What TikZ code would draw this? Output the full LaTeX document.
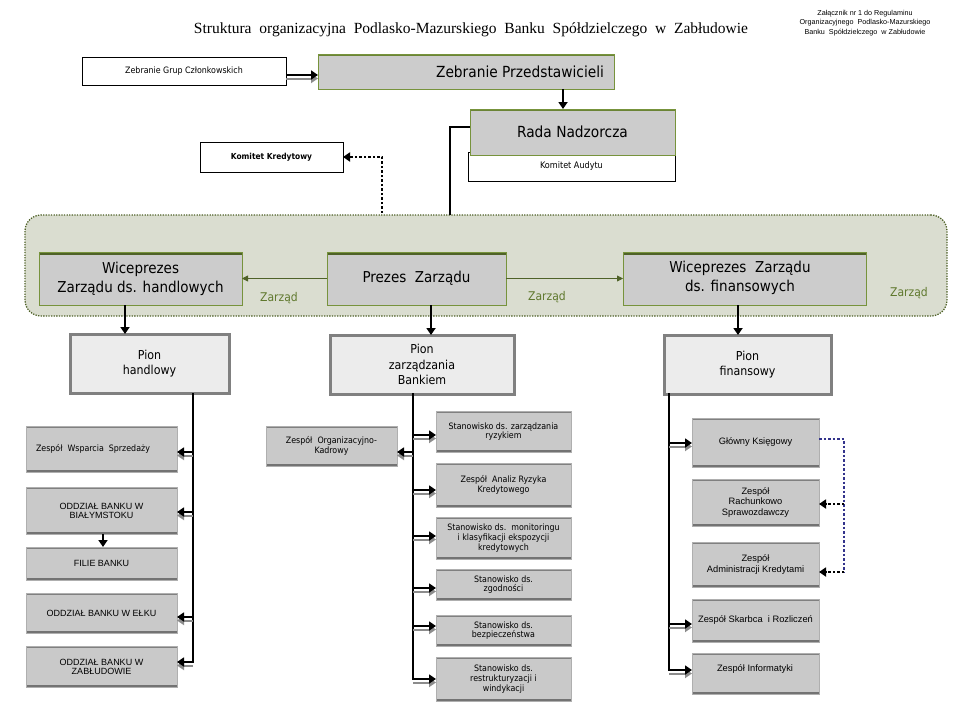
\documentclass[tikz,border=0pt]{standalone}
\usepackage{fontspec}
\setmainfont{DejaVu Sans Condensed}
\newfontfamily\ari{Liberation Sans}
\newfontfamily\tms{Liberation Serif}
\usetikzlibrary{arrows.meta,calc}
\definecolor{hgray}{RGB}{204,204,204}
\definecolor{boxgray}{RGB}{201,201,201}
\definecolor{topgray}{RGB}{128,128,128}
\definecolor{botgray}{RGB}{115,115,115}
\definecolor{sidegray}{RGB}{175,175,175}
\definecolor{piongray}{RGB}{236,236,236}
\definecolor{pionedge}{RGB}{128,128,128}
\definecolor{dgreen}{RGB}{79,98,40}
\definecolor{lgreen}{RGB}{119,147,60}
\definecolor{boardfill}{RGB}{218,221,208}
\definecolor{zgreen}{RGB}{95,120,45}
\definecolor{navy}{RGB}{51,51,140}
\definecolor{shgray}{RGB}{140,140,140}
\newcommand\bx[7]{\node[#2, minimum width={(#5-#3)*1pt}, minimum height={(#6-#4)*1pt}] (#1) at ({(#3+#5)/2},{(#4+#6)/2}) {#7};}
\newcommand\lar[3]{%
  \draw[sharr] ($(#2 -| #1)+(0,#3+3.5)$) -- ($(#2)+(0,#3+3.5)$);
  \draw[barr] ($(#2 -| #1)+(0,#3)$) -- ($(#2)+(0,#3)$);}
\begin{document}
\begin{tikzpicture}[x=1pt,y=-1pt,
  every node/.style={inner sep=0pt, outer sep=0pt, align=center},
  whitebox/.style={draw=black, line width=0.8pt, fill=white},
  greenbox/.style={fill=hgray, draw=lgreen, line width=1pt,
    path picture={\draw[line width=6pt, dgreen] (path picture bounding box.north west) -- (path picture bounding box.north east);}},
  topbox/.style={fill=hgray, draw=lgreen, line width=1pt,
    path picture={\draw[line width=4pt, lgreen!70!dgreen] (path picture bounding box.north west) -- (path picture bounding box.north east);}},
  lowbox/.style={fill=boxgray, draw=sidegray, line width=0.6pt,
    path picture={\draw[line width=4pt, topgray] (path picture bounding box.north west) -- (path picture bounding box.north east);
                  \draw[line width=5pt, botgray] (path picture bounding box.south west) -- (path picture bounding box.south east);}},
  pionbox/.style={fill=piongray, draw=pionedge, line width=3pt},
  board/.style={draw=dgreen, fill=boardfill, line width=1.3pt, dash pattern=on 1.3pt off 1.3pt, rounded corners=16pt},
  barr/.style={draw=black, line width=2pt, -{Triangle[length=7pt,width=9pt]}},
  sharr/.style={draw=shgray, line width=2pt, -{Triangle[length=7pt,width=9pt]}},
  darr/.style={draw=black, line width=2pt, -{Triangle[length=7pt,width=9pt]}},
  vline/.style={draw=black, line width=2.6pt},
  garr/.style={draw=dgreen, line width=0.8pt, -{Triangle[length=6pt,width=6pt]}},
  kdot/.style={draw=black, line width=2.5pt, dash pattern=on 2.5pt off 2pt, -{Triangle[length=7pt,width=9pt]}},
  ndot/.style={draw=navy, line width=2.5pt, dash pattern=on 2.5pt off 2pt},
  fbig/.style={font=\fontsize{15.3}{19}\selectfont},
  fvp/.style={font=\fontsize{15}{19}\selectfont},
  fpion/.style={font=\fontsize{12.3}{15.5}\selectfont},
  fsm/.style={font=\fontsize{8.8}{9.6}\selectfont},
  far/.style={font=\ari\fontsize{9}{9}\selectfont},
  farr/.style={font=\ari\fontsize{9.3}{10.3}\selectfont},
  fzar/.style={font=\fontsize{12}{13}\selectfont, text=zgreen}
]
\useasboundingbox (0,0) rectangle (960,720);
\fill[white] (0,0) rectangle (960,720);

% title and note
\node[font=\tms\fontsize{15.5}{18}\selectfont] (title) at (471,30) {Struktura\ \ organizacyjna\ \ Podlasko-Mazurskiego\ \ Banku\ \ Spółdzielczego\ \ w\ \ Zabłudowie};
\node[font=\ari\fontsize{7.2}{9.5}\selectfont] (note) at (865,23) {Załącznik nr 1 do Regulaminu\\Organizacyjnego\ \ Podlasko-Mazurskiego\\Banku\ \ Spółdzielczego\ \ w Zabłudowie};

% board
\node[board, minimum width=922pt, minimum height=101pt] (zarzad) at (486,265.5) {};

% top
\bx{zgc}{whitebox,fsm}{82}{57}{286}{85}{Zebranie Grup Członkowskich}
\bx{zp}{topbox}{318}{54}{614}{89}{}
\node[fbig] (zpt) at (520,72) {Zebranie Przedstawicieli};
\bx{ka}{whitebox,font=\fontsize{9}{10}\selectfont}{468}{152}{675}{181}{\raisebox{-1pt}{Komitet Audytu}}
\bx{rn}{topbox,fbig}{470}{109}{675}{155}{Rada Nadzorcza}
\bx{kk}{whitebox,font=\bfseries\fontsize{8.3}{9}\selectfont}{200}{142}{343}{172}{Komitet Kredytowy}

% board members
\bx{wh}{greenbox,fvp}{39}{252}{242}{305}{Wiceprezes\\Zarządu ds. handlowych}
\bx{prez}{greenbox,fvp}{327}{252}{506}{305}{Prezes\ \ Zarządu}
\bx{wf}{greenbox,fvp}{623}{252}{866}{305}{}
\node[fvp] (wft) at (740,278) {Wiceprezes\ \ Zarządu\\ds. finansowych};
\node[fzar] (z1) at (279,298) {Zarząd};
\node[fzar] (z2) at (547,297) {Zarząd};
\node[fzar] (z3) at (909,293) {Zarząd};

% piony
\bx{ph}{pionbox,fpion}{70}{334}{229}{393}{Pion\\handlowy}
\bx{pz}{pionbox,fpion}{330}{335}{514}{394}{Pion\\zarządzania\\Bankiem}
\bx{pf}{pionbox,fpion}{664}{335}{831}{394}{Pion\\finansowy}

% left column
\bx{wsp}{lowbox}{26}{426}{177}{472}{}
\node[fsm] (wspt) at (93,449) {Zespół\ \ Wsparcia\ \ Sprzedaży};
\bx{bial}{lowbox,far}{26}{487}{177}{534}{ODDZIAŁ BANKU W\\BIAŁYMSTOKU}
\bx{fil}{lowbox,far}{26}{547}{177}{580}{FILIE BANKU}
\bx{elk}{lowbox,far}{26}{593}{177}{633}{ODDZIAŁ BANKU W EŁKU}
\bx{zab}{lowbox,far}{26}{646}{177}{687}{ODDZIAŁ BANKU W\\ZABŁUDOWIE}

% middle column
\bx{ok}{lowbox,fsm}{266}{426}{397}{466}{Zespół\ \ Organizacyjno-\\Kadrowy}
\bx{zr}{lowbox,fsm}{436}{411}{571}{452}{Stanowisko ds. zarządzania\\ryzykiem}
\bx{zark}{lowbox,fsm}{436}{463}{571}{507}{Zespół\ \ Analiz Ryzyka\\Kredytowego}
\bx{mon}{lowbox,fsm}{436}{517}{571}{559}{Stanowisko ds.\ \ monitoringu\\i klasyfikacji ekspozycji\\kredytowych}
\bx{zg}{lowbox,fsm}{436}{569}{571}{600}{Stanowisko ds.\\zgodności}
\bx{bz}{lowbox,fsm}{436}{615}{571}{646}{Stanowisko ds.\\bezpieczeństwa}
\bx{rw}{lowbox,fsm}{436}{657}{571}{701}{Stanowisko ds.\\restrukturyzacji i\\windykacji}

% right column
\bx{gk}{lowbox,farr}{692}{418}{819}{467}{Główny Księgowy}
\bx{rs}{lowbox,farr}{692}{479}{819}{526}{Zespół\\Rachunkowo\\Sprawozdawczy}
\bx{ak}{lowbox,farr}{692}{542}{819}{587}{Zespół\\Administracji Kredytami}
\bx{sk}{lowbox,farr}{692}{599}{819}{642}{Zespół Skarbca\ \ i Rozliczeń}
\bx{inf}{lowbox}{692}{653}{819}{694}{}
\node[farr] (inft) at (755,669) {Zespół Informatyki};

% helper coordinates
\coordinate (vK) at (382,0);
\coordinate (vT) at (450,0);
\coordinate (vZ) at (563,0);
\coordinate (a1) at (125,0);
\coordinate (a2) at (431,0);
\coordinate (a3) at (738,0);
\coordinate (a4) at (103,0);
\coordinate (vL) at (193,0);
\coordinate (vM) at (413,0);
\coordinate (vR) at (669,0);
\coordinate (vD) at (844,0);

% top connectors
\lar{zgc.east}{zgc.east -| zp.west}{4}
\draw[darr] (zp.south -| vZ) -- (rn.north -| vZ);
\draw[vline] ($(rn.west)+(0,-5)$) -| (vT |- zarzad.north);
\draw[kdot] ($(zarzad.north -| vK)+(0,-2)$) -- (vK |- kk.east) -- (kk.east);

% board connectors
\draw[garr] (prez.west) -- (prez.west -| wh.east);
\draw[garr] (prez.east) -- (prez.east -| wf.west);
\draw[darr] (wh.south -| a1) -- (ph.north -| a1);
\draw[darr] (prez.south -| a2) -- (pz.north -| a2);
\draw[darr] (wf.south -| a3) -- (pf.north -| a3);

% left column connectors
\draw[vline] (ph.south -| vL) -- ($(zab.east -| vL)+(0,-3.2)$);
\lar{vL}{wsp.east}{3}
\lar{vL}{bial.east}{1.5}
\lar{vL}{elk.east}{4}
\lar{vL}{zab.east}{-4.5}
\draw[darr] (bial.south -| a4) -- (fil.north -| a4);

% middle column connectors
\draw[vline] ($(pz.south -| vM)+(0,-1)$) -- ($(rw.west -| vM)+(0,1.3)$);
\lar{vM}{ok.east}{6}
\lar{vM}{zr.west}{3.5}
\lar{vM}{zark.west}{5}
\lar{vM}{mon.west}{-2}
\lar{vM}{zg.west}{3.5}
\lar{vM}{bz.west}{-4.5}
\lar{vM}{rw.west}{0}

% right column connectors
\draw[vline] ($(pf.south -| vR)+(0,-1)$) -- ($(inf.west -| vR)+(0,-2.2)$);
\lar{vR}{gk.west}{0.5}
\lar{vR}{sk.west}{3.5}
\lar{vR}{inf.west}{-3.5}
\draw[ndot] ($(gk.east)+(0,-3.5)$) -| ($(ak.east -| vD)+(0,7.5)$);
\draw[kdot] ($(rs.east -| vD)+(0,1.5)$) -- ($(rs.east)+(0,1.5)$);
\draw[kdot] ($(ak.east -| vD)+(0,7.5)$) -- ($(ak.east)+(0,7.5)$);
\end{tikzpicture}
\end{document}
